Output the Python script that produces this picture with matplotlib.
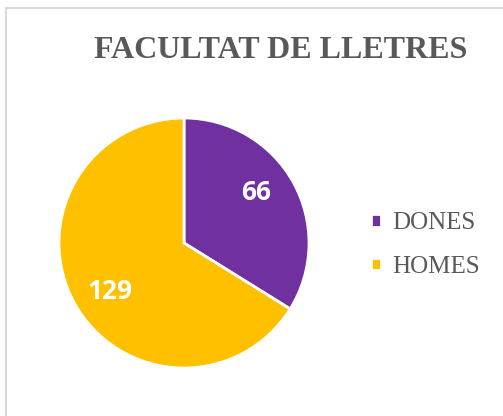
import matplotlib
matplotlib.use("Agg")
import matplotlib.pyplot as plt
from matplotlib.lines import Line2D

labels = ["DONES", "HOMES"]
values = [66, 129]
colors = ["#7030A0", "#FFC000"]

W, H = 503, 416
fig = plt.figure(figsize=(W / 100, H / 100), dpi=100)

# chart border (only top and left visible in the crop)
fig.add_artist(Line2D([6 / W, 6 / W], [0, 1 - 8 / H], color="#D9D9D9", lw=1.5))
fig.add_artist(Line2D([6 / W, 1], [1 - 8 / H, 1 - 8 / H], color="#D9D9D9", lw=1.5))

# pie axes: center (184, 243) px, radius 125 px
cx, cy, r = 184, 243, 125
ax = fig.add_axes([(cx - r) / W, (H - cy - r) / H, 2 * r / W, 2 * r / H])
total = sum(values)
wedges, texts, autotexts = ax.pie(
    values, colors=colors, startangle=90, counterclock=False,
    autopct=lambda p: "%d" % round(p * total / 100), pctdistance=0.7,
    wedgeprops=dict(edgecolor="white", linewidth=2),
    textprops=dict(color="white", fontsize=19, fontweight="bold", family="Open Sans"))
ax.set_xlim(-1, 1)
ax.set_ylim(-1, 1)
ax.set_aspect("auto")
ax.axis("off")

# data label placement as in the original
autotexts[0].set_position((0.576, 0.40))
autotexts[1].set_position((-0.59, -0.39))

fig.text(281 / W, 1 - 50 / H, "FACULTAT DE LLETRES", ha="center", va="center",
         fontsize=23, fontweight="bold", family="Liberation Serif", color="#595959")

leg = fig.legend(wedges, labels, loc="center left", bbox_to_anchor=(371 / W, 1 - 245 / H),
                 frameon=False, handlelength=0.38, handleheight=0.38, handletextpad=0.45,
                 labelspacing=0.85, borderpad=0, borderaxespad=0,
                 prop=dict(family="Liberation Serif", size=18))
for t in leg.get_texts():
    t.set_color("#595959")

fig.savefig("out.png", dpi=100)
